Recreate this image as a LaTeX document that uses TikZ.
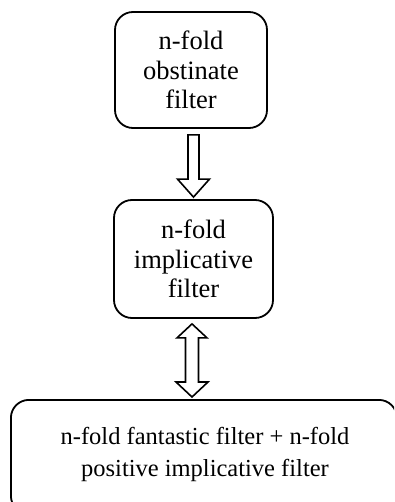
\documentclass[tikz,border=0pt]{standalone}
\usepackage{fontspec}
\setmainfont{Liberation Serif}
\usetikzlibrary{calc}
\begin{document}
\begin{tikzpicture}[x=1pt,y=-1pt,
  box/.style={draw,line width=1.8pt,rounded corners=18pt,align=center,inner sep=0pt,
    font=\fontsize{26.5}{29.5}\selectfont},
  fat/.style={draw,line width=1.6pt,fill=white,line join=miter}]
\useasboundingbox (0,0) rectangle (394,502);
\clip (0,0) rectangle (394,502);
\node[box,minimum width=152pt,minimum height=116pt] (a) at (191,70) {n-fold\\obstinate\\filter};
\node[box,minimum width=159pt,minimum height=118pt] (b) at (193.5,259) {n-fold\\implicative\\filter};
\node[box,minimum width=386pt,minimum height=114pt,anchor=north west,text depth=0pt] (c) at (10,399) {};
\node[font=\fontsize{24.5}{32}\selectfont,align=center] (ct) at (205,454) {n-fold fantastic filter + n-fold\\positive implicative filter};
% single fat arrow from a to b
\coordinate (s1) at ($(a.south)+(2.5,6)$);
\coordinate (t1) at ($(b.north)+(0,-2)$);
\draw[fat] ($(s1)+(-5.5,0)$) -- ($(s1)+(5.5,0)$) -- ($(t1)+(5.5,-18)$) -- ($(t1)+(16,-18)$) -- (t1)
  -- ($(t1)+(-16,-18)$) -- ($(t1)+(-5.5,-18)$) -- cycle;
% double fat arrow between b and c
\coordinate (u) at ($(b.south)+(-1.5,5)$);
\coordinate (v) at ($(c.north west)+(182,-2)$);
\draw[fat] (u) -- ($(u)+(15,14)$) -- ($(u)+(6.5,14)$) -- ($(v)+(6.5,-15)$) -- ($(v)+(16,-15)$) -- (v)
  -- ($(v)+(-16,-15)$) -- ($(v)+(-6.5,-15)$) -- ($(u)+(-6.5,14)$) -- ($(u)+(-15,14)$) -- cycle;
\end{tikzpicture}
\end{document}
